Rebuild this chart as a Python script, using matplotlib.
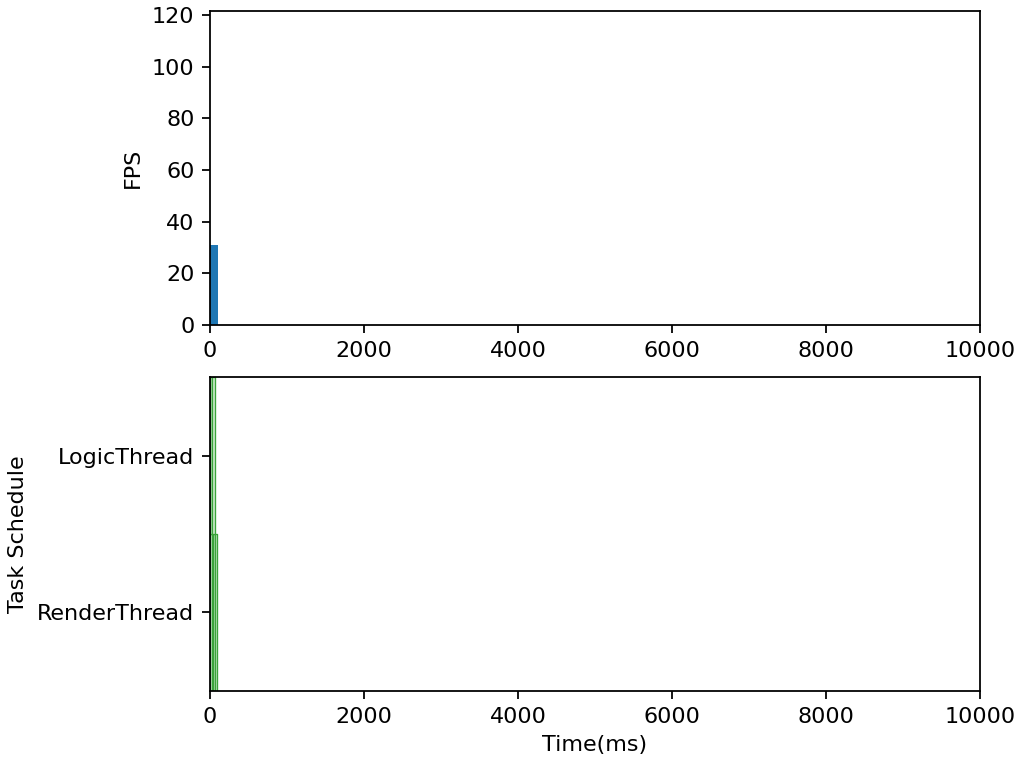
import matplotlib
matplotlib.use("Agg")
import matplotlib.pyplot as plt

# FPS samples (time bucket start in ms, fps value)
fps_times = [0]
fps_values = [31]
fps_width = 100

# task schedule spans (start ms, duration ms)
threads = ["RenderThread", "LogicThread"]
logic_spans = [(0, 25), (30, 30)]
render_spans = [(0, 30), (35, 35), (70, 25)]

fig = plt.figure(figsize=(6.4, 4.8), dpi=160)
ax1 = fig.add_axes([0.2051, 0.5768, 0.7520, 0.4089])
ax2 = fig.add_axes([0.2051, 0.1003, 0.7520, 0.4088])

ax1.bar(fps_times, fps_values, width=fps_width, align='edge', color='#1f77b4')
ax1.set_xlim(0, 10000)
ax1.set_ylim(0, 121.5)
ax1.set_yticks(range(0, 121, 20))
ax1.set_ylabel("FPS")

ax2.broken_barh(render_spans, (-0.5, 1), facecolors='#cfeccf', edgecolors='#3aa33a', linewidth=0.6)
ax2.broken_barh(logic_spans, (0.5, 1), facecolors='#cfeccf', edgecolors='#3aa33a', linewidth=0.6)
ax2.set_yticks(range(len(threads)))
ax2.set_yticklabels(threads)
ax2.set_ylim(-0.5, 1.5)
ax2.set_xlim(0, 10000)
ax2.set_xlabel("Time(ms)")
ax2.set_ylabel("Task Schedule")

plt.savefig("out.png")
